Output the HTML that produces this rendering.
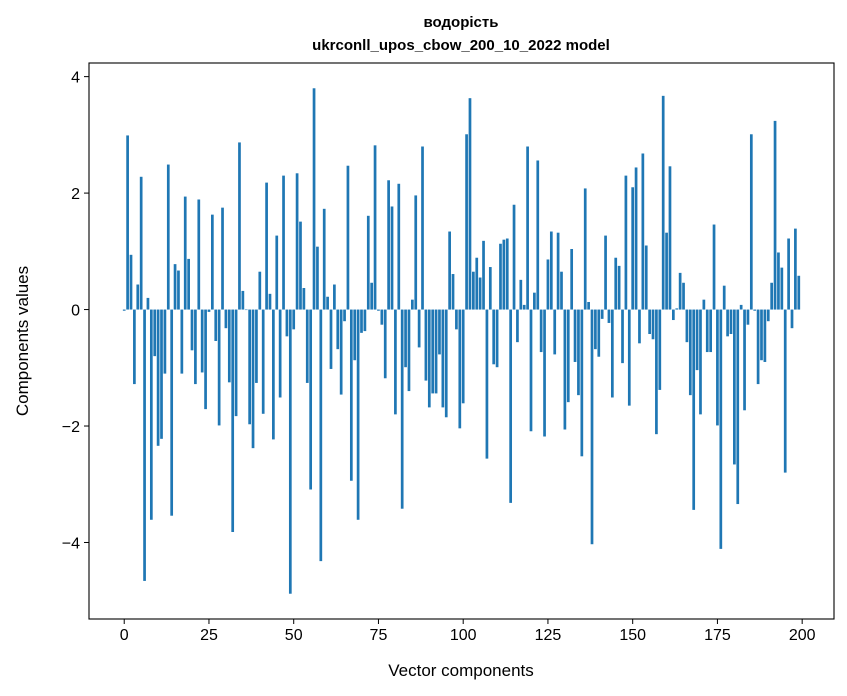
<!DOCTYPE html>
<html><head><meta charset="utf-8">
<style>
body{margin:0;background:#fff;}
svg{display:block;font-family:"Liberation Sans","DejaVu Sans",sans-serif;}
</style></head>
<body>
<svg id="chart" width="847" height="696" viewBox="0 0 847 696">
<text x="461" y="27" text-anchor="middle" font-size="15" font-weight="bold">водорість</text>
<text x="461" y="50" text-anchor="middle" font-size="15" font-weight="bold">ukrconll_upos_cbow_200_10_2022 model</text>
<g id="bars"></g>
<g id="xticks"></g>
<g id="yticks"></g>
<rect x="89" y="63" width="745" height="556" fill="none" stroke="#000" stroke-width="1.1"/>
<text x="461" y="676" text-anchor="middle" font-size="17">Vector components</text>
<text transform="translate(28,341) rotate(-90)" text-anchor="middle" font-size="17">Components values</text>
</svg>
<script>
const values = [-0.02,2.99,0.94,-1.28,0.43,2.28,-4.66,0.20,-3.61,-0.80,
-2.34,-2.22,-1.10,2.49,-3.54,0.78,0.67,-1.10,1.94,0.87,
-0.70,-1.28,1.89,-1.08,-1.71,-0.04,1.63,-0.54,-1.99,1.75,
-0.32,-1.25,-3.82,-1.83,2.87,0.32,0.0,-1.97,-2.38,-1.26,
0.65,-1.79,2.18,0.27,-2.23,1.27,-1.51,2.30,-0.46,-4.88,
-0.34,2.34,1.51,0.37,-1.26,-3.09,3.80,1.08,-4.32,1.73,
0.22,-1.02,0.43,-0.68,-1.46,-0.20,2.47,-2.94,-0.87,-3.61,
-0.40,-0.37,1.61,0.46,2.82,-0.02,-0.26,-1.18,2.22,1.77,
-1.80,2.16,-3.42,-0.99,-1.40,0.17,1.96,-0.65,2.80,-1.22,
-1.68,-1.44,-1.44,-0.77,-1.68,-1.85,1.34,0.61,-0.34,-2.04,
-1.61,3.01,3.63,0.65,0.89,0.55,1.18,-2.56,0.73,-0.94,
-0.99,1.13,1.20,1.22,-3.32,1.80,-0.56,0.51,0.08,2.80,
-2.09,0.29,2.56,-0.73,-2.18,0.86,1.34,-0.77,1.32,0.65,
-2.06,-1.59,1.04,-0.90,-1.47,-2.52,2.08,0.13,-4.03,-0.68,
-0.81,-0.16,1.27,-0.23,-1.51,0.89,0.75,-0.92,2.30,-1.65,
2.10,2.44,-0.58,2.68,1.10,-0.42,-0.51,-2.14,-1.38,3.67,
1.32,2.46,-0.18,0.02,0.63,0.46,-0.56,-1.47,-3.44,-1.04,
-1.80,0.17,-0.73,-0.73,1.46,-1.99,-4.11,0.41,-0.46,-0.42,
-2.66,-3.34,0.08,-1.73,-0.26,3.01,-0.02,-1.28,-0.87,-0.90,
-0.20,0.46,3.24,0.98,0.72,-2.80,1.22,-0.32,1.39,0.58];
const xTicks = [0,25,50,75,100,125,150,175,200];
const yTicks = [-4,-2,0,2,4];

const NS = "http://www.w3.org/2000/svg";
const L = 89, R = 834, T = 63, B = 619;
const n = values.length;
const xmin0 = -0.4, xmax0 = n - 1 + 0.4;
const xm = (xmax0 - xmin0) * 0.05;
const xd = [xmin0 - xm, xmax0 + xm];
const vmin = Math.min(0, ...values), vmax = Math.max(0, ...values);
const ym = (vmax - vmin) * 0.05;
const yd = [vmin - ym, vmax + ym];
const xs = v => L + (v - xd[0]) / (xd[1] - xd[0]) * (R - L);
const ys = v => B - (v - yd[0]) / (yd[1] - yd[0]) * (B - T);

const gb = document.getElementById('bars');
values.forEach((v, i) => {
  const r = document.createElementNS(NS, 'rect');
  const x0 = xs(i - 0.4), x1 = xs(i + 0.4);
  const y0 = ys(Math.max(v, 0)), y1 = ys(Math.min(v, 0));
  r.setAttribute('x', x0); r.setAttribute('width', x1 - x0);
  r.setAttribute('y', y0); r.setAttribute('height', Math.max(y1 - y0, 0.5));
  r.setAttribute('fill', '#1f77b4');
  
  
  gb.appendChild(r);
});

const gx = document.getElementById('xticks');
xTicks.forEach(t => {
  const x = xs(t);
  const l = document.createElementNS(NS, 'line');
  l.setAttribute('x1', x); l.setAttribute('x2', x);
  l.setAttribute('y1', B); l.setAttribute('y2', B + 5);
  l.setAttribute('stroke', '#000');
  
  
  gx.appendChild(l);
  const tx = document.createElementNS(NS, 'text');
  tx.setAttribute('x', x); tx.setAttribute('y', B + 21);
  tx.setAttribute('text-anchor', 'middle'); tx.setAttribute('font-size', '16');
  tx.textContent = t;
  
  
  gx.appendChild(tx);
});

const gy = document.getElementById('yticks');
yTicks.forEach(t => {
  const y = ys(t);
  const l = document.createElementNS(NS, 'line');
  l.setAttribute('x1', L - 5); l.setAttribute('x2', L);
  l.setAttribute('y1', y); l.setAttribute('y2', y);
  l.setAttribute('stroke', '#000');
  
  
  gy.appendChild(l);
  const tx = document.createElementNS(NS, 'text');
  tx.setAttribute('x', L - 9); tx.setAttribute('y', y + 6);
  tx.setAttribute('text-anchor', 'end'); tx.setAttribute('font-size', '16');
  tx.textContent = t < 0 ? '\u2212' + Math.abs(t) : String(t);
  
  
  gy.appendChild(tx);
});
</script>
</body></html>
